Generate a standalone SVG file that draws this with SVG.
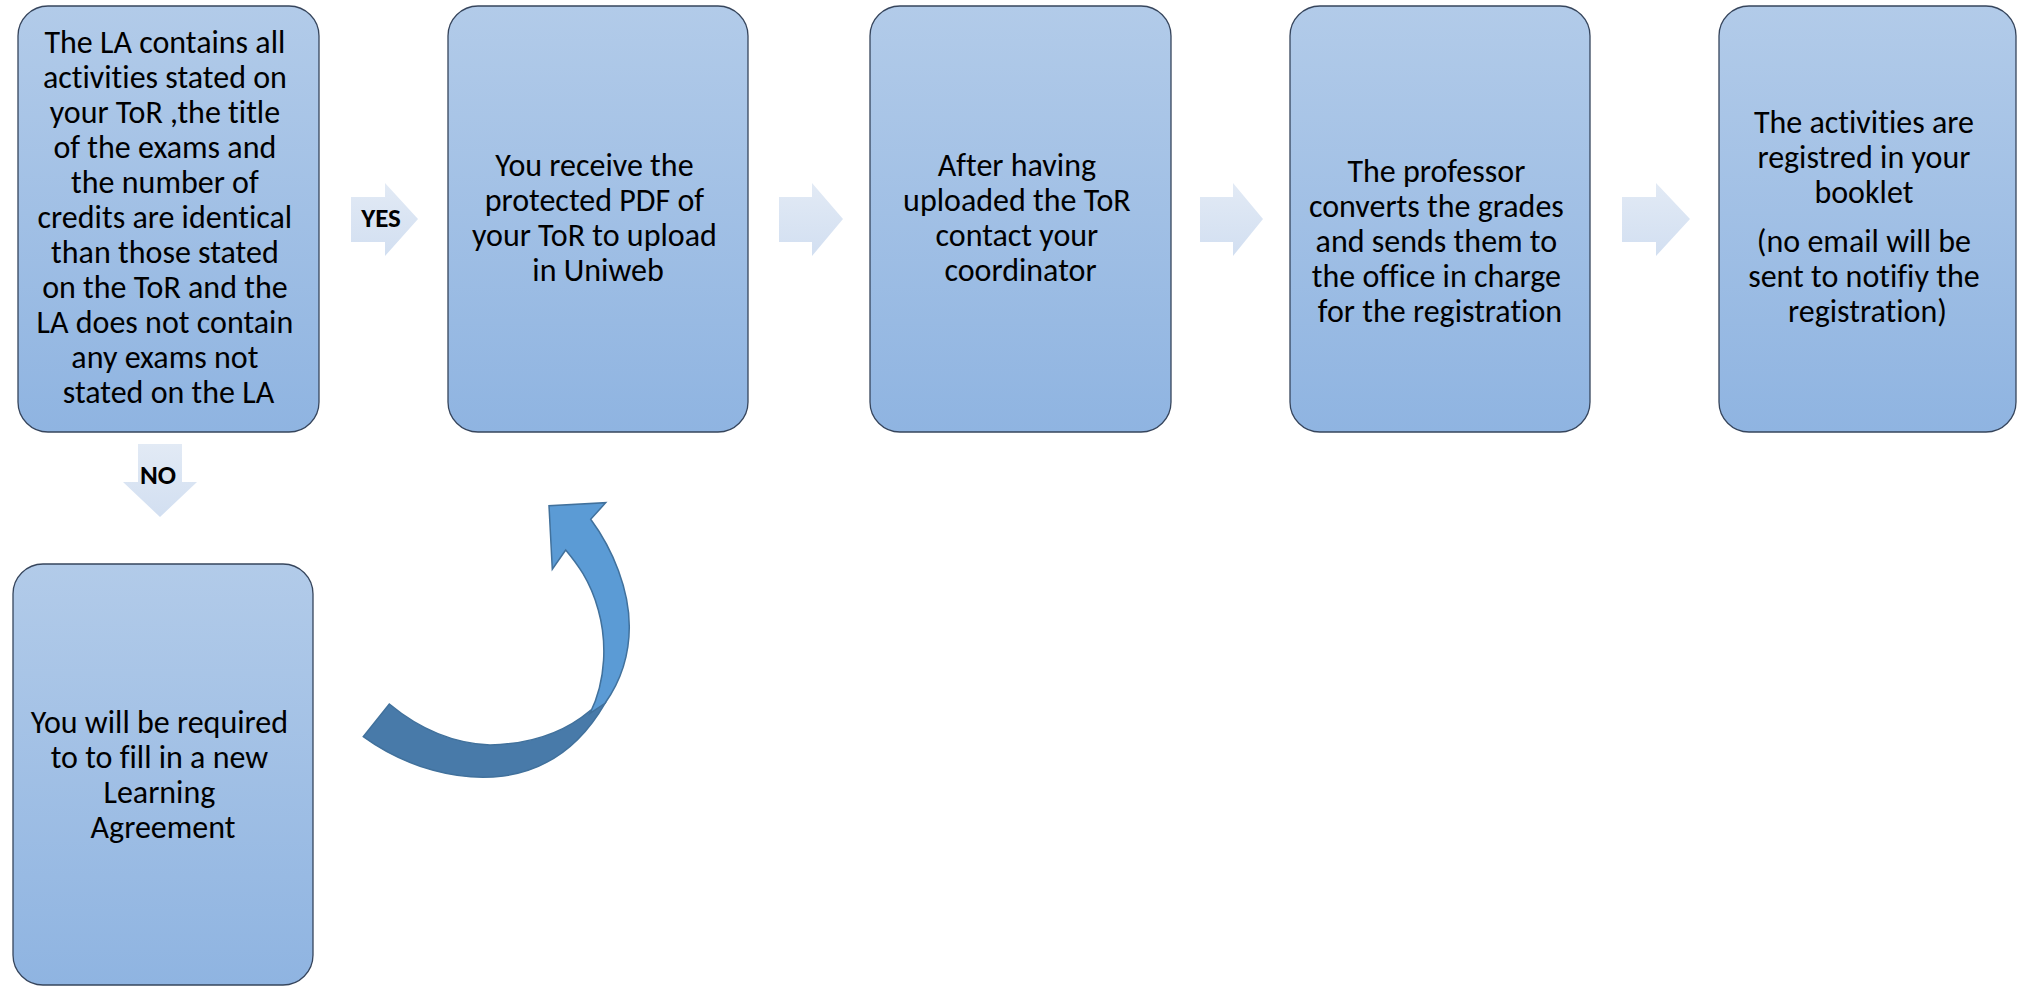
<svg xmlns="http://www.w3.org/2000/svg" width="2018" height="986" viewBox="0 0 2018 986">
<defs>
<linearGradient id="boxGrad" x1="0" y1="0" x2="0" y2="1">
<stop offset="0" stop-color="#b2cbe9"/>
<stop offset="1" stop-color="#8fb4e1"/>
</linearGradient>
<linearGradient id="arrGrad" x1="0" y1="0" x2="0" y2="1">
<stop offset="0" stop-color="#e2eaf5"/>
<stop offset="1" stop-color="#d2dff1"/>
</linearGradient>
<style>
.box{fill:url(#boxGrad);stroke:#36455c;stroke-width:1.3}
.t{font-family:Carlito,Lato,"Liberation Sans",sans-serif;font-size:32px;fill:#000;text-anchor:middle;font-variant-ligatures:none}
.lbl{font-family:Carlito,Lato,"Liberation Sans",sans-serif;font-size:27px;font-weight:bold;fill:#000;text-anchor:middle}
.arr{fill:url(#arrGrad)}
.cdark{fill:#487aa9;stroke:#41719c;stroke-width:1.5}
.clight{fill:#5b9bd5;stroke:#41719c;stroke-width:1.5}
</style>
</defs>
<rect width="2018" height="986" fill="#fff"/>

<g id="connectors">
<g id="yes-arrow">
<polygon class="arr" points="351,197 385,197 385,183 418,219 385,256 385,242 351,242"/>
<text class="lbl" x="381" y="227">YES</text>
</g>
<polygon class="arr" points="779,197 812,197 812,183 843,219 812,256 812,242 779,242"/>
<polygon class="arr" points="1200,197 1233,197 1233,183 1263,219 1233,256 1233,242 1200,242"/>
<polygon class="arr" points="1622,197 1656,197 1656,183 1690,219 1656,256 1656,242 1622,242"/>
<g id="no-arrow">
<polygon class="arr" points="138,444 182,444 182,482 197,482 160,517 123,482 138,482"/>
<text class="lbl" x="158" y="484">NO</text>
</g>
<g id="curved-arrow">
<path class="cdark" d="M363.3,736.7 C406.7,768.3 460,781.7 503.3,776 C546.7,770 580,746.7 605,703.3 L590,710.7 C563.3,733.3 530,744 490,745 C450,743.3 416.7,726.7 389.3,704 Z"/>
<path class="clight" d="M590,713.3 C606.7,680 606.7,640 598.3,610 C590,580 576.7,563.3 565.7,550 L552.3,569.3 L549,505.7 L605.7,502.7 L590.7,519.3 C613.3,550 629.3,590 629.3,626.7 C629.3,660 616.7,686.7 605,703.3 Z"/>
</g>
</g>

<g id="node1">
<rect class="box" x="18" y="6" width="301" height="426" rx="30"/>
<text class="t">
<tspan x="168.5" y="53">The LA contains all</tspan>
<tspan x="168.5" y="88">activities stated on</tspan>
<tspan x="168.5" y="123">your ToR ,the title</tspan>
<tspan x="168.5" y="158">of the exams and</tspan>
<tspan x="168.5" y="193">the number of</tspan>
<tspan x="168.5" y="228">credits are identical</tspan>
<tspan x="168.5" y="263">than those stated</tspan>
<tspan x="168.5" y="298">on the ToR and the</tspan>
<tspan x="168.5" y="333">LA does not contain</tspan>
<tspan x="168.5" y="368">any exams not</tspan>
<tspan x="168.5" y="403">stated on the LA</tspan>
</text>
</g>

<g id="node2">
<rect class="box" x="448" y="6" width="300" height="426" rx="30"/>
<text class="t">
<tspan x="598" y="176">You receive the</tspan>
<tspan x="598" y="211">protected PDF of</tspan>
<tspan x="598" y="246">your ToR to upload</tspan>
<tspan x="598" y="281">in Uniweb</tspan>
</text>
</g>

<g id="node3">
<rect class="box" x="870" y="6" width="301" height="426" rx="30"/>
<text class="t">
<tspan x="1020.5" y="176">After having</tspan>
<tspan x="1020.5" y="211">uploaded the ToR</tspan>
<tspan x="1020.5" y="246">contact your</tspan>
<tspan x="1020.5" y="281">coordinator</tspan>
</text>
</g>

<g id="node4">
<rect class="box" x="1290" y="6" width="300" height="426" rx="30"/>
<text class="t">
<tspan x="1440" y="182">The professor</tspan>
<tspan x="1440" y="217">converts the grades</tspan>
<tspan x="1440" y="252">and sends them to</tspan>
<tspan x="1440" y="287">the office in charge</tspan>
<tspan x="1440" y="322">for the registration</tspan>
</text>
</g>

<g id="node5">
<rect class="box" x="1719" y="6" width="297" height="426" rx="30"/>
<text class="t">
<tspan x="1867.5" y="133">The activities are</tspan>
<tspan x="1867.5" y="168">registred in your</tspan>
<tspan x="1867.5" y="203">booklet</tspan>
<tspan x="1867.5" y="252">(no email will be</tspan>
<tspan x="1867.5" y="287">sent to notifiy the</tspan>
<tspan x="1867.5" y="322">registration)</tspan>
</text>
</g>

<g id="node6">
<rect class="box" x="13" y="564" width="300" height="421" rx="30"/>
<text class="t">
<tspan x="163" y="733">You will be required</tspan>
<tspan x="163" y="768">to to fill in a new</tspan>
<tspan x="163" y="803">Learning</tspan>
<tspan x="163" y="838">Agreement</tspan>
</text>
</g>
</svg>
